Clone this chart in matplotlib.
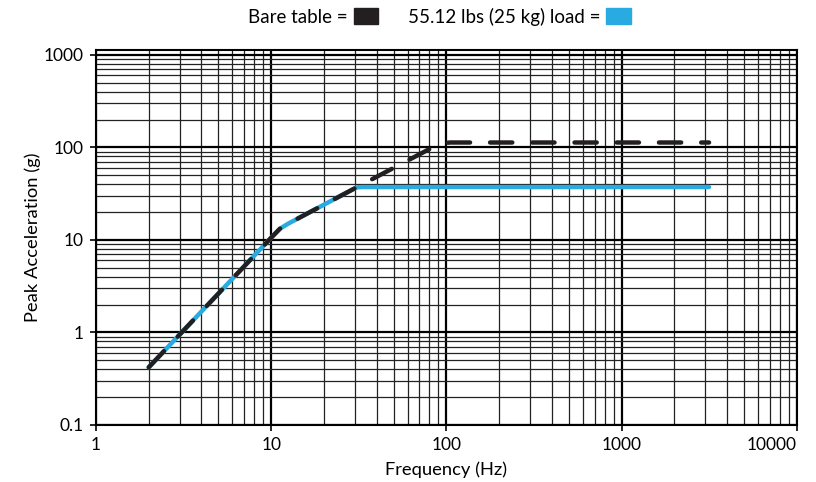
import matplotlib.pyplot as plt
from matplotlib.patches import Patch
from matplotlib.ticker import FixedLocator, FixedFormatter, NullFormatter

plt.rcParams['font.family'] = ['Lato', 'DejaVu Sans']

# data
bare_freq = [2, 10.2, 11.2, 12.5, 30.7, 88, 95, 105, 3150]
bare_acc = [0.42, 11.0, 13.2, 15.0, 37.0, 105.6, 111, 113, 113]
load_freq = [2, 10.2, 11.2, 12.5, 30.7, 33, 3150]
load_acc = [0.42, 11.0, 13.2, 15.0, 37.0, 37.3, 37.3]

x_ticks = [1, 10, 100, 1000, 10000]
x_labels = ['1', '10', '100', '1000', '10000']
y_ticks = [0.1, 1, 10, 100, 1000]
y_labels = ['0.1', '1', '10', '100', '1000']

black = '#231f20'
blue = '#29abe2'

fig = plt.figure(figsize=(8.16, 4.82), dpi=100)
ax = fig.add_axes([0.1176, 0.1183, 0.8591, 0.778])
ax.set_xscale('log')
ax.set_yscale('log')
ax.set_xlim(1, 10000)
ax.set_ylim(0.1, 1130)

# grid: 2..9 in every decade, decades heavier
minors_x = [m * 10.0 ** d for d in range(0, 4) for m in range(2, 10)]
minors_y = [m * 10.0 ** d for d in range(-1, 4) for m in range(2, 10) if m * 10.0 ** d < 1130]
ax.xaxis.set_major_locator(FixedLocator(x_ticks))
ax.yaxis.set_major_locator(FixedLocator(y_ticks))
ax.xaxis.set_minor_locator(FixedLocator(minors_x))
ax.yaxis.set_minor_locator(FixedLocator(minors_y))
ax.xaxis.set_major_formatter(FixedFormatter(x_labels))
ax.yaxis.set_major_formatter(FixedFormatter(y_labels))
ax.xaxis.set_minor_formatter(NullFormatter())
ax.yaxis.set_minor_formatter(NullFormatter())
ax.grid(which='major', color='black', lw=1.6)
ax.grid(which='minor', color='#222222', lw=0.9)
ax.set_axisbelow(True)
ax.tick_params(which='major', direction='out', length=4, width=1.2,
               labelsize=12.5, colors='black', pad=5)
ax.tick_params(which='minor', length=0)
for s in ax.spines.values():
    s.set_linewidth(1.5)
    s.set_color('black')
ax.get_xticklabels()[-1].set_ha('right')

ax.plot(load_freq, load_acc, color=blue, lw=3.2, solid_capstyle='round', zorder=3)
ax.plot(bare_freq, bare_acc, color=black, lw=3.2, dashes=(5, 4.5),
        dash_capstyle='round', zorder=4)

ax.set_xlabel('Frequency (Hz)', fontsize=13.2, labelpad=6)
ax.set_ylabel('Peak Acceleration (g)', fontsize=13.2, labelpad=2)

handles = [Patch(color=black), Patch(color=blue)]
ax.legend(handles, ['Bare table =', '55.12 lbs (25 kg) load ='], ncol=2,
          markerfirst=False, frameon=False, loc='lower center',
          bbox_to_anchor=(0.49, 1.02), fontsize=13.5, handlelength=1.3,
          handleheight=0.9, handletextpad=0.3, columnspacing=1.6)

fig.savefig('out.png', dpi=100)
